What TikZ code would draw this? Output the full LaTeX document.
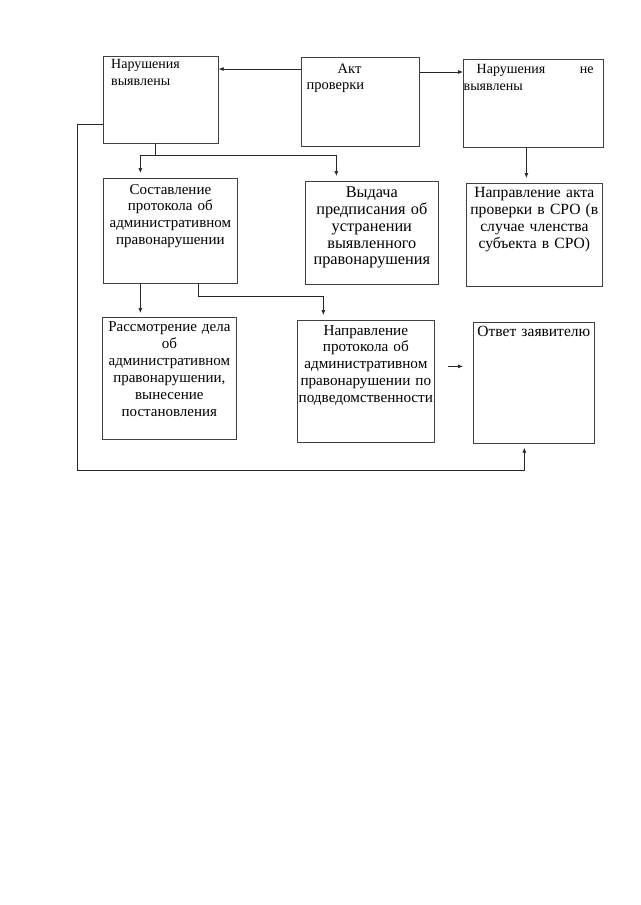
\documentclass[tikz,border=0pt]{standalone}
\usepackage{fontspec}
\setmainfont{Liberation Serif}
\usetikzlibrary{arrows.meta,calc}
\tikzset{
  box/.style={draw=black!75, line width=0.7pt, anchor=north west, inner sep=0pt},
  fs/.style={font=\fontsize{#1}{16.9}\selectfont},
  txt/.style={anchor=base, inner sep=0pt, align=center, text width=140pt},
  ltxt/.style={anchor=base west, inner sep=0pt, align=left, text width=130pt},
  conn/.style={draw=black!85, line width=0.7pt},
  arr/.style={conn, -{Latex[length=5pt,width=4pt]}},
}
\begin{document}
\begin{tikzpicture}[x=1pt,y=-1pt]
\useasboundingbox[fill=white] (0,0) rectangle (640,905);
% boxes
\node[box, minimum width=115pt, minimum height=87pt] (b1) at (103,56) {};
\node[box, minimum width=118pt, minimum height=89pt] (b2) at (301,57) {};
\node[box, minimum width=140pt, minimum height=88pt] (b3) at (463,59) {};
\node[box, minimum width=134pt, minimum height=105pt] (b4) at (103,178) {};
\node[box, minimum width=133pt, minimum height=103pt] (b5) at (305,181) {};
\node[box, minimum width=136pt, minimum height=103pt] (b6) at (466,183) {};
\node[box, minimum width=134pt, minimum height=122pt] (b7) at (102,317) {};
\node[box, minimum width=137pt, minimum height=122pt] (b8) at (297,320) {};
\node[box, minimum width=121pt, minimum height=121pt] (b9) at (473,322) {};
% texts
\node[ltxt, fs=14] (t1) at (111,68.5) {Нарушения\\выявлены};
\node[ltxt, fs=14.5] (t2) at (306.5,73) {\hspace*{31pt}Акт\\проверки};
\node[ltxt, fs=14, text width=130pt] (t3) at (463.5,73.3) {\hspace*{13pt}Нарушения\hfill не\\выявлены};
\node[txt, fs=15] (t4) at ([yshift=-16pt]b4.north) {Составление\\протокола об\\административном\\правонарушении};
\node[txt, fs=16.3] (t5) at ([yshift=-16.3pt]b5.north) {Выдача\\предписания об\\устранении\\выявленного\\правонарушения};
\node[txt, fs=15.6] (t6) at ([yshift=-14.5pt]b6.north) {Направление акта\\проверки в СРО (в\\случае членства\\субъекта в СРО)};
\node[txt, fs=15] (t7) at ([yshift=-14.7pt]b7.north) {Рассмотрение дела\\об\\административном\\правонарушении,\\вынесение\\постановления};
\node[txt, fs=15.2] (t8) at ([yshift=-15pt]b8.north) {Направление\\протокола об\\административном\\правонарушении по\\подведомственности};
\node[txt, fs=15.5] (t9) at ([yshift=-14pt]b9.north) {Ответ заявителю};
% connectors
\draw[arr] ([yshift=-12pt]b2.north west) -- ([yshift=-12pt]b2.north west -| b1.east);
\draw[arr] ([yshift=-15pt]b2.north east) -- ([yshift=-15pt]b2.north east -| b3.west);
\draw[arr, shorten >=5pt] ([xshift=-7pt]b3.south) -- ([xshift=-7pt]b3.south |- b6.north);
\draw[conn] ([xshift=-5.5pt]b1.south) -- ++(0,12) coordinate (j1);
\draw[arr, shorten >=5pt] (j1) -| ([xshift=-30pt]b4.north);
\draw[arr, shorten >=5pt] (j1) -| ([xshift=-35.5pt]b5.north);
\draw[arr, shorten >=4pt] ([xshift=-30pt]b4.south) -- ([xshift=-30pt]b4.south |- b7.north);
\draw[arr, shorten >=5pt] ([xshift=28pt]b4.south) -- ++(0,13) -| ([xshift=-42.5pt]b8.north);
\coordinate (fa) at ([xshift=13pt,yshift=15pt]b8.east);
\draw[arr] (fa) -- ($(fa -| b9.west)+(-10,0)$);
\draw[arr, shorten >=4pt] ([yshift=-24.5pt]b1.west) -- ++(-26,0) -- ++(0,346) -| ([xshift=-9.5pt]b9.south);
\end{tikzpicture}
\end{document}
